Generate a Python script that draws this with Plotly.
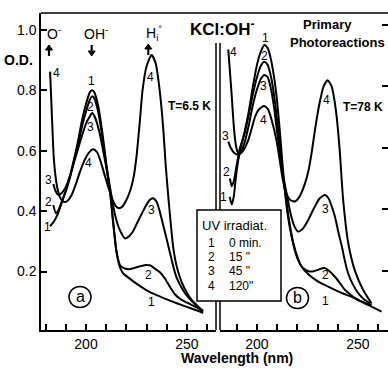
import plotly.graph_objects as go

# ---------------- data: optical density vs wavelength (nm) ----------------
# (a) T = 6.5 K
wl_a1 = [182.2, 184, 186, 188, 190, 192, 194, 196, 198, 200, 202, 203, 204, 206, 208, 210, 212,
         213.5, 215, 216.5, 218.3, 221, 225, 230, 235, 240, 245, 250, 255, 258]
od_a1 = [0.35, 0.365, 0.39, 0.43, 0.47, 0.515, 0.57, 0.63, 0.70, 0.755, 0.795, 0.80, 0.795, 0.75,
         0.665, 0.56, 0.46, 0.36, 0.27, 0.22, 0.195, 0.18, 0.16, 0.138, 0.122, 0.108, 0.095, 0.083,
         0.071, 0.063]

wl_a2 = [183.8, 185.1, 186.5, 188, 190, 192, 194, 196, 198, 200, 202, 203, 204, 206, 208, 210, 212,
         213.5, 215, 216.8, 218.5, 221, 224, 227, 230, 232, 234, 236.6, 239, 241.6, 244, 247, 250,
         253, 256.4, 258]
od_a2 = [0.42, 0.393, 0.405, 0.43, 0.465, 0.51, 0.565, 0.62, 0.68, 0.73, 0.77, 0.78, 0.775, 0.73,
         0.65, 0.55, 0.46, 0.36, 0.27, 0.222, 0.212, 0.208, 0.212, 0.218, 0.222, 0.22, 0.21, 0.198,
         0.178, 0.149, 0.125, 0.108, 0.097, 0.087, 0.076, 0.068]

wl_a3 = [183.8, 185, 186.3, 188, 190, 192, 194, 196, 198, 200, 202, 203, 204.5, 206.5, 208.5, 210.5,
         212, 214, 216, 217.7, 219.3, 221, 223, 226, 229, 231.5, 233.3, 235, 236.5, 238, 239.5,
         241.5, 243.5, 245, 247.5, 250, 253, 256.4, 258]
od_a3 = [0.49, 0.465, 0.454, 0.46, 0.48, 0.515, 0.56, 0.605, 0.65, 0.69, 0.715, 0.725, 0.71, 0.665,
         0.60, 0.53, 0.475, 0.40, 0.35, 0.325, 0.31, 0.315, 0.33, 0.37, 0.41, 0.437, 0.443, 0.43,
         0.40, 0.36, 0.32, 0.265, 0.21, 0.178, 0.145, 0.12, 0.098, 0.076, 0.068]

wl_a4 = [182.2, 183.2, 184.0, 185.0, 186.0, 187.2, 188.4, 189.6, 191, 193, 195, 197, 199, 201, 203.5,
         205.5, 207, 209, 211, 213, 215, 216.2, 218, 220, 222, 223.5, 225, 226.7, 228, 230, 232.5,
         234.5, 236.5, 238.3, 239.5, 241, 243.2, 245, 247.4, 250, 252.3, 255, 258]
od_a4 = [0.862, 0.70, 0.58, 0.51, 0.47, 0.445, 0.433, 0.43, 0.435, 0.455, 0.49, 0.53, 0.565, 0.59,
         0.605, 0.595, 0.57, 0.525, 0.48, 0.44, 0.415, 0.41, 0.415, 0.437, 0.47, 0.51, 0.58, 0.70,
         0.80, 0.88, 0.917, 0.89, 0.80, 0.67, 0.55, 0.43, 0.28, 0.215, 0.165, 0.13, 0.106, 0.088,
         0.07]

# (b) T = 78 K
wl_b1 = [186.5, 187.5, 188.5, 189.5, 190.5, 192, 194, 196, 198, 200, 202, 203.7, 205.3, 206.5, 208,
         209.5, 211, 212.5, 214, 215.5, 217.2, 219, 221, 223, 226, 229, 233, 237, 242, 248.5, 255,
         261.7]
od_b1 = [0.44, 0.415, 0.44, 0.50, 0.55, 0.60, 0.655, 0.72, 0.80, 0.87, 0.915, 0.935, 0.925, 0.90,
         0.85, 0.78, 0.68, 0.56, 0.45, 0.37, 0.31, 0.26, 0.225, 0.205, 0.185, 0.17, 0.155, 0.142,
         0.127, 0.11, 0.088, 0.066]

wl_b2 = [186.6, 187.5, 188.5, 190, 191.6, 194, 196, 198, 200, 202, 203.7, 205.3, 207, 208.5, 210,
         211.5, 213, 214.5, 216, 218, 220, 222, 223.5, 225.5, 227.5, 230, 232, 233.7, 235.5, 238.6,
         241, 243.6, 247, 250, 253.5, 256.8]
od_b2 = [0.50, 0.475, 0.49, 0.545, 0.60, 0.65, 0.71, 0.775, 0.83, 0.868, 0.88, 0.87, 0.83, 0.77,
         0.69, 0.60, 0.50, 0.43, 0.36, 0.29, 0.245, 0.215, 0.205, 0.198, 0.197, 0.202, 0.207, 0.208,
         0.20, 0.18, 0.16, 0.137, 0.118, 0.104, 0.095, 0.088]

wl_b3 = [185.8, 187, 188.5, 190.5, 192, 194, 196, 198, 200, 202, 203.7, 205.3, 207, 208.5, 210,
         211.5, 213, 214.7, 216.5, 218.5, 220.4, 222.5, 225, 228, 231, 233.7, 235.5, 237, 238.6,
         240.5, 242, 243.6, 245.2, 247.5, 250.2, 253, 256]
od_b3 = [0.62, 0.60, 0.585, 0.578, 0.585, 0.62, 0.675, 0.74, 0.79, 0.825, 0.837, 0.83, 0.79, 0.73,
         0.65, 0.58, 0.51, 0.45, 0.39, 0.345, 0.327, 0.335, 0.36, 0.40, 0.435, 0.446, 0.435, 0.41,
         0.376, 0.32, 0.28, 0.23, 0.19, 0.155, 0.126, 0.107, 0.093]

wl_b4 = [185.8, 186.6, 187.5, 188.3, 189.2, 190.2, 191, 192.5, 194, 195.7, 197.5, 199, 201, 203.5,
         205.5, 207.3, 209.8, 211.5, 213, 214.7, 216.5, 218.8, 221, 223.8, 225.5, 227, 229, 231,
         233, 235, 237, 238.5, 239.5, 241, 242.7, 245.2, 248.5, 252.6, 256.8]
od_b4 = [0.92, 0.85, 0.77, 0.69, 0.625, 0.59, 0.58, 0.585, 0.60, 0.625, 0.665, 0.70, 0.725, 0.736,
         0.725, 0.69, 0.62, 0.55, 0.49, 0.45, 0.43, 0.425, 0.44, 0.484, 0.525, 0.58, 0.67, 0.745,
         0.80, 0.82, 0.80, 0.75, 0.70, 0.59, 0.43, 0.29, 0.20, 0.137, 0.093]

curves_a = [(wl_a1, od_a1), (wl_a2, od_a2), (wl_a3, od_a3), (wl_a4, od_a4)]
curves_b = [(wl_b1, od_b1), (wl_b2, od_b2), (wl_b3, od_b3), (wl_b4, od_b4)]

# curve numbers written beside the traces: (text, wavelength, O.D.)
labels_a = [("4", 185.5, 0.857), ("3", 181.2, 0.503), ("2", 181.2, 0.43), ("1", 180.7, 0.348),
            ("1", 202.8, 0.83), ("2", 202.3, 0.744), ("3", 202.3, 0.678), ("4", 201.2, 0.559),
            ("4", 231.7, 0.845), ("3", 232.5, 0.404), ("2", 230.8, 0.189), ("1", 232.5, 0.10)]
labels_b = [("4", 188.3, 0.913), ("3", 184.2, 0.64), ("2", 185.0, 0.522), ("1", 183.3, 0.44),
            ("1", 204.0, 0.957), ("2", 203.6, 0.90), ("3", 203.1, 0.80), ("4", 203.1, 0.69),
            ("4", 234.5, 0.756), ("3", 233.7, 0.40), ("2", 233.7, 0.186), ("1", 233.7, 0.10)]

irradiation_no = ["1", "2", "3", "4"]
irradiation_time = ["0 min.", "15 \"", "45 \"", "120\""]

x_major = [200, 250]
x_minor_a = list(range(180, 261, 10))
x_minor_b = list(range(190, 261, 10))
y_ticks = [0.2, 0.4, 0.6, 0.8, 1.0]
y_ticktext = ["0.2", "0.4", "0.6", "0.8", "1.0"]

# ---------------- figure ----------------
W, H = 388, 370
ML, MR, MT, MB = 41, 0, 13, 40
PW, PH = W - ML - MR, H - MT - MB


def paper(px, py):
    return (px - ML) / PW, (H - MB - py) / PH


FONT = "Liberation Sans"
fig = go.Figure()

line = dict(color="black", width=2, shape="spline", smoothing=0.6)
for wl, od in curves_a:
    fig.add_trace(go.Scatter(x=wl, y=od, mode="lines", line=line, xaxis="x", yaxis="y",
                             showlegend=False, hoverinfo="skip"))
for wl, od in curves_b:
    fig.add_trace(go.Scatter(x=wl, y=od, mode="lines", line=line, xaxis="x2", yaxis="y2",
                             showlegend=False, hoverinfo="skip"))

dom_a_end = paper(216, 0)[0]
dom_b_start = paper(220, 0)[0]

axis_common = dict(showgrid=False, zeroline=False, ticks="inside", ticklen=6, tickwidth=1.5,
                   tickcolor="black", linecolor="black", linewidth=1.5,
                   tickfont=dict(family=FONT, size=14, color="black"))
minor_style = dict(ticks="inside", ticklen=6, tickwidth=1.5, tickcolor="black", showgrid=False)

fig.update_layout(
    width=W, height=H,
    margin=dict(l=ML, r=MR, t=MT, b=MB),
    paper_bgcolor="white", plot_bgcolor="white",
    xaxis=dict(domain=[0, dom_a_end], range=[177.7, 264.4], tickvals=x_major,
               minor=dict(tickvals=x_minor_a, **minor_style),
               showline=True, anchor="y", **axis_common),
    xaxis2=dict(domain=[dom_b_start, 1], range=[181.7, 264.9], tickvals=x_major,
                minor=dict(tickvals=x_minor_b, **minor_style),
                showline=True, anchor="y2", **axis_common),
    yaxis=dict(domain=[0, 1], range=[0.0066, 1.056], tickvals=y_ticks, ticktext=y_ticktext,
               showline=True, anchor="x", **axis_common),
    yaxis2=dict(domain=[0, 1], range=[0.0065, 1.039], tickvals=y_ticks, showticklabels=False,
                showline=False, anchor="x2", side="right", **axis_common),
)

shapes = []
# top frame line across both panels
shapes.append(dict(type="line", xref="paper", yref="paper", x0=0, x1=1, y0=1, y1=1,
                   line=dict(color="black", width=1.5)))
# double divider between the panels
y_div_top = paper(0, 43)[1]
shapes.append(dict(type="line", xref="x domain", yref="paper", x0=1, x1=1, y0=0, y1=y_div_top,
                   line=dict(color="black", width=1.5)))
shapes.append(dict(type="line", xref="x2 domain", yref="paper", x0=0, x1=0, y0=0, y1=y_div_top,
                   line=dict(color="black", width=1.5)))
# irradiation key box
bx0, by0 = paper(197, 301)
bx1, by1 = paper(281, 210)
shapes.append(dict(type="rect", xref="paper", yref="paper", x0=bx0, x1=bx1, y0=by0, y1=by1,
                   fillcolor="white", line=dict(color="black", width=1.5), layer="above"))
# circled panel letters
for cx, cy in [(80, 297), (297.5, 298)]:
    px_, py_ = paper(cx, cy)
    shapes.append(dict(type="circle", xref="paper", yref="paper", xsizemode="pixel",
                       ysizemode="pixel", xanchor=px_, yanchor=py_, x0=-11, x1=11, y0=-10.5,
                       y1=10.5, line=dict(color="black", width=1.5), layer="above"))


def arrow(px, head_y, tail_y):
    """Short bold arrow (shaft + filled head) marking a band position."""
    d = 1 if tail_y > head_y else -1
    base_y = head_y + d * 5
    hx, hy = paper(px, head_y)
    lx, ly = paper(px - 3.5, base_y)
    rx, ry = paper(px + 3.5, base_y)
    sx, sy = paper(px, base_y)
    tx, ty = paper(px, tail_y)
    shapes.append(dict(type="line", xref="paper", yref="paper", x0=sx, x1=tx, y0=sy, y1=ty,
                       line=dict(color="black", width=2.2)))
    shapes.append(dict(type="path", xref="paper", yref="paper",
                       path=f"M {hx},{hy} L {lx},{ly} L {rx},{ry} Z",
                       fillcolor="black", line=dict(color="black", width=1)))


arrow(49, 45, 56)
arrow(91.7, 56, 45)
arrow(148.3, 44, 55)
fig.update_layout(shapes=shapes)

ann = []


def text(px, py, s, size=14, bold=False, xanchor="center"):
    x, y = paper(px, py)
    ann.append(dict(x=x, y=y, xref="paper", yref="paper", text=f"<b>{s}</b>" if bold else s,
                    showarrow=False, xanchor=xanchor, yanchor="middle",
                    font=dict(family=FONT, size=size, color="black")))


for s, wl, od in labels_a:
    ann.append(dict(x=wl, y=od, xref="x", yref="y", text=s, showarrow=False,
                    font=dict(family=FONT, size=12, color="black")))
for s, wl, od in labels_b:
    ann.append(dict(x=wl, y=od, xref="x2", yref="y2", text=s, showarrow=False,
                    font=dict(family=FONT, size=12, color="black")))

text(45, 33, "O<sup>-</sup>", 14, xanchor="left")
text(82, 33, "OH<sup>-</sup>", 14, xanchor="left")
text(144, 33, "H<sub>i</sub><sup>°</sup>", 14, xanchor="left")

text(18, 60, "O.D.", 14, bold=True)
text(222, 28, "KCl:OH<sup>-</sup>", 17, bold=True)
text(327, 25, "Primary", 13, bold=True)
text(337, 42, "Photoreactions", 13, bold=True)
text(189, 106, "T=6.5 K", 12, bold=True)
text(363, 107, "T=78 K", 12, bold=True)
text(80, 296, "a", 16)
text(297.5, 297, "b", 16)
text(237, 358, "Wavelength (nm)", 14, bold=True)

text(200, 225, "UV irradiat.", 13, xanchor="left")
for i, (n, t) in enumerate(zip(irradiation_no, irradiation_time)):
    yy = [243.3, 256.7, 270.7, 285.5][i]
    text(211, yy, n, 12)
    text(227, yy, t, 12, xanchor="left")

fig.update_layout(annotations=ann)
fig.write_html("out.html")
